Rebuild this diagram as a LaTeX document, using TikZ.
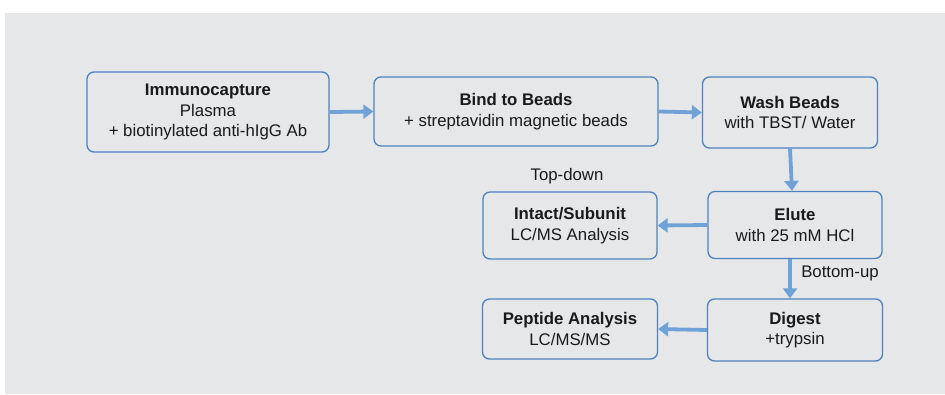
\documentclass[tikz,border=0pt]{standalone}
\usepackage{fontspec}
\setmainfont{Liberation Sans}
\usetikzlibrary{arrows.meta,positioning}
\definecolor{panel}{HTML}{E6E7E9}
\definecolor{frame}{HTML}{4F81BD}
\definecolor{flow}{HTML}{6FA3D8}
\definecolor{ink}{HTML}{1A1A1A}

\begin{document}
\begin{tikzpicture}[x=1pt,y=-1pt,
  stepbox/.style={draw=frame,line width=1.3pt,rounded corners=7pt,align=center,
    text=ink,inner sep=0pt,font=\fontsize{16.8}{20.5}\selectfont},
  flowarrow/.style={flow,line width=3.8pt,-{Triangle[length=10pt,width=14pt]}},
  note/.style={text=ink,font=\fontsize{16.8}{20}\selectfont}]
  \path[use as bounding box] (0,0) rectangle (945,394);
  % grey panel behind the workflow
  \fill[panel] (5,13) rectangle (945,394);

  % upper row: capture and bead handling
  \node[stepbox,minimum width=242pt,minimum height=80pt] (immuno) at (208,112)
    {\textbf{Immunocapture}\\Plasma\\+ biotinylated anti-hIgG Ab};
  \node[stepbox,minimum width=284pt,minimum height=69pt] (bind) at (516,111.5)
    {\textbf{Bind to Beads}\\+ streptavidin magnetic beads};
  \node[stepbox,minimum width=175pt,minimum height=71pt] (wash) at (790,112.5)
    {\textbf{Wash Beads}\\with TBST/ Water};

  % elution and the two analysis routes
  \node[stepbox,minimum width=174pt,minimum height=67pt] (elute) at (795,225)
    {\textbf{Elute}\\with 25 mM HCl};
  \node[stepbox,minimum width=174pt,minimum height=67pt] (intact) at (570,225.5)
    {\textbf{Intact/Subunit}\\LC/MS Analysis};
  \node[stepbox,minimum width=175pt,minimum height=62pt] (digest) at (795,330)
    {\textbf{Digest}\\+trypsin};
  \node[stepbox,minimum width=175pt,minimum height=60pt] (peptide) at (570,329)
    {\textbf{Peptide Analysis}\\LC/MS/MS};

  \node[note] (topdown) at (567,176) {Top-down};
  \node[note] (bottomup) at (840,273) {Bottom-up};

  % connectors
  \draw[flowarrow] (immuno.east) -- (bind.west);
  \draw[flowarrow] (bind.east) -- (wash.west);
  \draw[flowarrow] (wash.south) -- ([xshift=-3pt]elute.north);
  \draw[flowarrow] (elute.west) -- (intact.east);
  \draw[flowarrow] ([xshift=-5pt]elute.south) -- ([xshift=-5pt]digest.north);
  \draw[flowarrow] (digest.west) -- (peptide.east);
\end{tikzpicture}
\end{document}
